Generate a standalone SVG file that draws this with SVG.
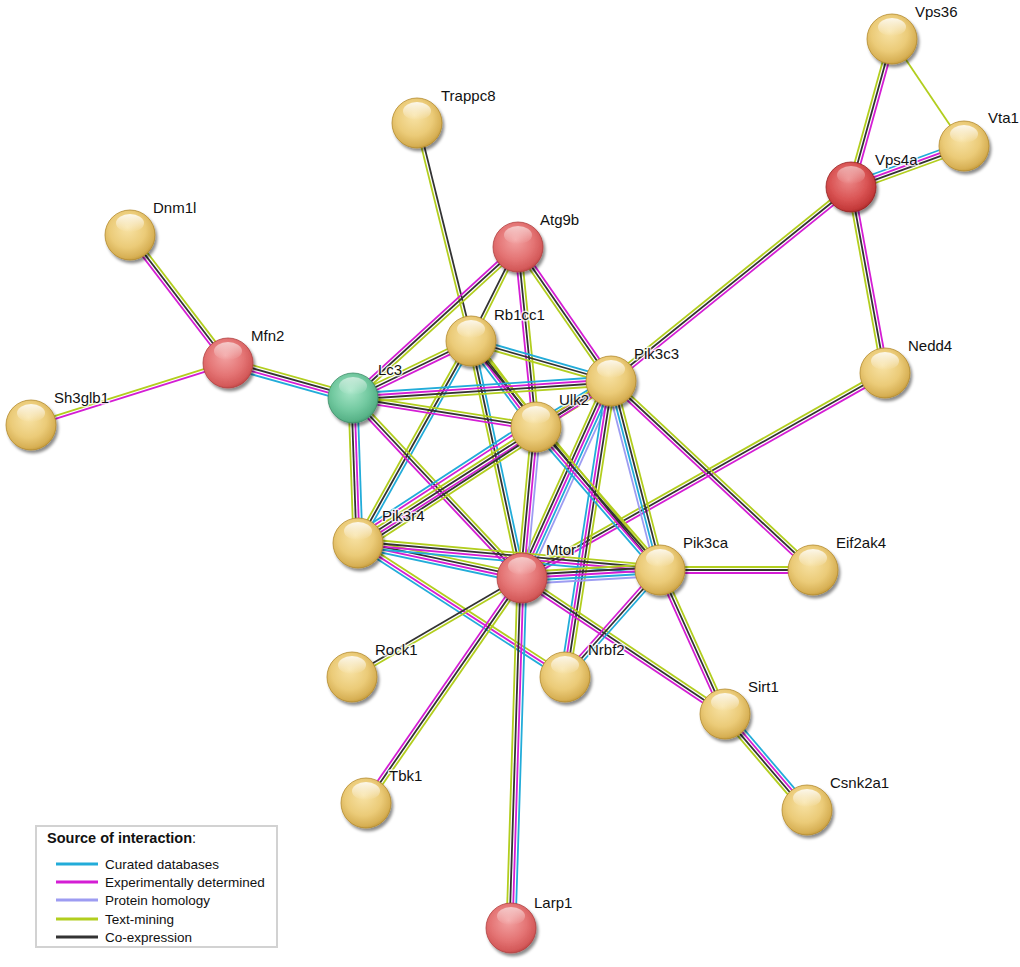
<svg xmlns="http://www.w3.org/2000/svg" xmlns:xlink="http://www.w3.org/1999/xlink" width="1020" height="967" viewBox="0 0 1020 967">
<style>
line{stroke-width:1.8;fill:none}
.g{stroke:#b2ce1e}.k{stroke:#333333}.m{stroke:#d41dd4}.c{stroke:#22acd9}.l{stroke:#9d9cf2}
.lbl{font-family:"Liberation Sans",Arial,sans-serif;font-size:15px;fill:#111;stroke:#fff;stroke-width:3;stroke-opacity:0.75;paint-order:stroke;stroke-linejoin:round}
.leg{font-family:"Liberation Sans",Arial,sans-serif;font-size:13.5px;fill:#111}
.legl{stroke-width:3}
</style>
<defs>
<filter id="sh" x="-40%" y="-40%" width="180%" height="180%"><feDropShadow dx="2" dy="3" stdDeviation="1.6" flood-color="#000" flood-opacity="0.45"/></filter>
<radialGradient id="gy" cx="0.45" cy="0.42" r="0.6" fx="0.45" fy="0.35"><stop offset="0" stop-color="#f8e3a6"/><stop offset="0.6" stop-color="#ebcb78"/><stop offset="0.9" stop-color="#d7b055"/><stop offset="1" stop-color="#c49a3b"/></radialGradient>
<radialGradient id="gr" cx="0.45" cy="0.42" r="0.6" fx="0.45" fy="0.35"><stop offset="0" stop-color="#f3a3a3"/><stop offset="0.6" stop-color="#e47474"/><stop offset="0.9" stop-color="#d45a5a"/><stop offset="1" stop-color="#bf4545"/></radialGradient>
<radialGradient id="gd" cx="0.45" cy="0.42" r="0.6" fx="0.45" fy="0.35"><stop offset="0" stop-color="#ec8a8a"/><stop offset="0.6" stop-color="#da5555"/><stop offset="0.9" stop-color="#c43a3a"/><stop offset="1" stop-color="#a82a2a"/></radialGradient>
<radialGradient id="gg" cx="0.45" cy="0.42" r="0.6" fx="0.45" fy="0.35"><stop offset="0" stop-color="#a8e6c8"/><stop offset="0.6" stop-color="#72c9a0"/><stop offset="0.9" stop-color="#58b388"/><stop offset="1" stop-color="#449a72"/></radialGradient>
<linearGradient id="hl" x1="0" y1="0" x2="0" y2="1"><stop offset="0" stop-color="#fff" stop-opacity="0.85"/><stop offset="1" stop-color="#fff" stop-opacity="0"/></linearGradient>
<g id="sy"><circle r="25" fill="url(#gy)" stroke="#b48a2c" stroke-width="0.8"/><ellipse cy="-12" rx="14" ry="9" fill="url(#hl)"/></g>
<g id="sr"><circle r="25" fill="url(#gr)" stroke="#b04040" stroke-width="0.8"/><ellipse cy="-12" rx="14" ry="9" fill="url(#hl)" opacity="0.7"/></g>
<g id="sd"><circle r="25" fill="url(#gd)" stroke="#962020" stroke-width="0.8"/><ellipse cy="-12" rx="14" ry="9" fill="url(#hl)" opacity="0.6"/></g>
<g id="sg"><circle r="25" fill="url(#gg)" stroke="#3d8d68" stroke-width="0.8"/><ellipse cy="-12" rx="14" ry="9" fill="url(#hl)" opacity="0.7"/></g>
</defs>
<rect width="1020" height="967" fill="#ffffff"/>
<g id="edges">
<line x1="892" y1="39" x2="964" y2="146" class="g"/>
<g transform="matrix(0.2670,-0.9637,0.9637,0.2670,851,187)"><line x2="153.6" y1="-3" y2="-3" class="g"/><line x2="153.6" class="k"/><line x2="153.6" y1="3" y2="3" class="m"/></g>
<g transform="matrix(-0.9400,0.3411,-0.3411,-0.9400,964,146)"><line x2="120.2" y1="-4.5" y2="-4.5" class="g"/><line x2="120.2" y1="-1.5" y2="-1.5" class="k"/><line x2="120.2" y1="1.5" y2="1.5" class="m"/><line x2="120.2" y1="4.5" y2="4.5" class="c"/></g>
<g transform="matrix(0.7777,-0.6286,0.6286,0.7777,611,381)"><line x2="308.6" y1="-3" y2="-3" class="g"/><line x2="308.6" class="k"/><line x2="308.6" y1="3" y2="3" class="m"/></g>
<g transform="matrix(-0.1798,-0.9837,0.9837,-0.1798,885,373)"><line x2="189.1" y1="-3" y2="-3" class="g"/><line x2="189.1" class="k"/><line x2="189.1" y1="3" y2="3" class="m"/></g>
<g transform="matrix(0.8707,-0.4917,0.4917,0.8707,522,578)"><line x2="416.9" y1="-3" y2="-3" class="g"/><line x2="416.9" class="k"/><line x2="416.9" y1="3" y2="3" class="m"/></g>
<g transform="matrix(-0.2404,-0.9707,0.9707,-0.2404,471,341)"><line x2="224.6" y1="-1.5" y2="-1.5" class="g"/><line x2="224.6" y1="1.5" y2="1.5" class="k"/></g>
<g transform="matrix(0.6079,0.7940,-0.7940,0.6079,130,235)"><line x2="161.2" y1="-3" y2="-3" class="g"/><line x2="161.2" class="k"/><line x2="161.2" y1="3" y2="3" class="m"/></g>
<g transform="matrix(0.9539,-0.3002,0.3002,0.9539,31,425)"><line x2="206.5" y1="-1.5" y2="-1.5" class="g"/><line x2="206.5" y1="1.5" y2="1.5" class="m"/></g>
<g transform="matrix(0.9630,0.2696,-0.2696,0.9630,228,363)"><line x2="129.8" y1="-4.5" y2="-4.5" class="g"/><line x2="129.8" y1="-1.5" y2="-1.5" class="k"/><line x2="129.8" y1="1.5" y2="1.5" class="m"/><line x2="129.8" y1="4.5" y2="4.5" class="c"/></g>
<g transform="matrix(-0.7377,0.6751,-0.6751,-0.7377,518,247)"><line x2="223.7" y1="-3" y2="-3" class="g"/><line x2="223.7" class="k"/><line x2="223.7" y1="3" y2="3" class="m"/></g>
<g transform="matrix(-0.4472,0.8944,-0.8944,-0.4472,518,247)"><line x2="105.1" y1="-1.5" y2="-1.5" class="g"/><line x2="105.1" y1="1.5" y2="1.5" class="k"/></g>
<g transform="matrix(-0.5702,-0.8215,0.8215,-0.5702,611,381)"><line x2="163.1" y1="-3" y2="-3" class="g"/><line x2="163.1" class="k"/><line x2="163.1" y1="3" y2="3" class="m"/></g>
<g transform="matrix(-0.0995,-0.9950,0.9950,-0.0995,536,427)"><line x2="180.9" y1="-3" y2="-3" class="m"/><line x2="180.9" class="k"/><line x2="180.9" y1="3" y2="3" class="g"/></g>
<g transform="matrix(0.9004,-0.4350,0.4350,0.9004,353,398)"><line x2="131.1" y1="-3" y2="-3" class="g"/><line x2="131.1" class="k"/><line x2="131.1" y1="3" y2="3" class="m"/></g>
<g transform="matrix(0.9615,0.2747,-0.2747,0.9615,471,341)"><line x2="145.6" y1="-3" y2="-3" class="c"/><line x2="145.6" class="k"/><line x2="145.6" y1="3" y2="3" class="g"/></g>
<g transform="matrix(0.6030,0.7978,-0.7978,0.6030,471,341)"><line x2="107.8" y1="-4.5" y2="-4.5" class="g"/><line x2="107.8" y1="-1.5" y2="-1.5" class="k"/><line x2="107.8" y1="1.5" y2="1.5" class="m"/><line x2="107.8" y1="4.5" y2="4.5" class="c"/></g>
<g transform="matrix(-0.2104,-0.9776,0.9776,-0.2104,522,578)"><line x2="242.4" y1="-3" y2="-3" class="g"/><line x2="242.4" class="k"/><line x2="242.4" y1="3" y2="3" class="c"/></g>
<g transform="matrix(0.4882,-0.8727,0.8727,0.4882,358,543)"><line x2="231.5" y1="-3" y2="-3" class="g"/><line x2="231.5" class="k"/><line x2="231.5" y1="3" y2="3" class="c"/></g>
<g transform="matrix(0.6365,0.7712,-0.7712,0.6365,471,341)"><line x2="296.9" y1="-1.5" y2="-1.5" class="g"/><line x2="296.9" y1="1.5" y2="1.5" class="k"/></g>
<g transform="matrix(0.9978,-0.0657,0.0657,0.9978,353,398)"><line x2="258.6" y1="-4.5" y2="-4.5" class="c"/><line x2="258.6" y1="-1.5" y2="-1.5" class="m"/><line x2="258.6" y1="1.5" y2="1.5" class="k"/><line x2="258.6" y1="4.5" y2="4.5" class="g"/></g>
<g transform="matrix(0.9877,0.1565,-0.1565,0.9877,353,398)"><line x2="185.3" y1="-3" y2="-3" class="g"/><line x2="185.3" class="k"/><line x2="185.3" y1="3" y2="3" class="m"/></g>
<g transform="matrix(-0.0345,-0.9994,0.9994,-0.0345,358,543)"><line x2="145.1" y1="-4.5" y2="-4.5" class="g"/><line x2="145.1" y1="-1.5" y2="-1.5" class="k"/><line x2="145.1" y1="1.5" y2="1.5" class="m"/><line x2="145.1" y1="4.5" y2="4.5" class="c"/></g>
<g transform="matrix(0.6845,0.7290,-0.7290,0.6845,353,398)"><line x2="246.9" y1="-3" y2="-3" class="g"/><line x2="246.9" class="k"/><line x2="246.9" y1="3" y2="3" class="m"/></g>
<g transform="matrix(0.8525,-0.5228,0.5228,0.8525,536,427)"><line x2="88" y1="-4.5" y2="-4.5" class="c"/><line x2="88" y1="-1.5" y2="-1.5" class="m"/><line x2="88" y1="1.5" y2="1.5" class="k"/><line x2="88" y1="4.5" y2="4.5" class="g"/></g>
<g transform="matrix(0.8422,-0.5392,0.5392,0.8422,358,543)"><line x2="300.4" y1="-3" y2="-3" class="g"/><line x2="300.4" class="k"/><line x2="300.4" y1="3" y2="3" class="m"/></g>
<g transform="matrix(0.8378,-0.5460,0.5460,0.8378,358,543)"><line x2="212.5" y1="-9" y2="-9" class="c"/><line x2="212.5" y1="-6" y2="-6" class="m"/><line x2="212.5" y1="6" y2="6" class="k"/><line x2="212.5" y1="9" y2="9" class="g"/></g>
<g transform="matrix(0.4117,-0.9113,0.9113,0.4117,522,578)"><line x2="216.2" y1="-6" y2="-6" class="g"/><line x2="216.2" y1="-3" y2="-3" class="k"/><line x2="216.2" class="m"/><line x2="216.2" y1="3" y2="3" class="c"/><line x2="216.2" y1="6" y2="6" class="l"/></g>
<g transform="matrix(-0.2510,-0.9680,0.9680,-0.2510,660,570)"><line x2="195.3" y1="-4.5" y2="-4.5" class="l"/><line x2="195.3" y1="-1.5" y2="-1.5" class="c"/><line x2="195.3" y1="1.5" y2="1.5" class="k"/><line x2="195.3" y1="4.5" y2="4.5" class="g"/></g>
<g transform="matrix(0.1536,-0.9882,0.9882,0.1536,565,677)"><line x2="299.6" y1="-4.5" y2="-4.5" class="c"/><line x2="299.6" y1="-1.5" y2="-1.5" class="m"/><line x2="299.6" y1="1.5" y2="1.5" class="k"/><line x2="299.6" y1="4.5" y2="4.5" class="g"/></g>
<g transform="matrix(0.7302,0.6832,-0.6832,0.7302,611,381)"><line x2="276.6" y1="-3" y2="-3" class="g"/><line x2="276.6" class="k"/><line x2="276.6" y1="3" y2="3" class="m"/></g>
<g transform="matrix(0.0923,-0.9957,0.9957,0.0923,522,578)"><line x2="151.7" y1="-4.5" y2="-4.5" class="g"/><line x2="151.7" y1="-1.5" y2="-1.5" class="k"/><line x2="151.7" y1="1.5" y2="1.5" class="m"/><line x2="151.7" y1="4.5" y2="4.5" class="l"/></g>
<g transform="matrix(0.6551,0.7555,-0.7555,0.6551,536,427)"><line x2="189.3" y1="-4.5" y2="-4.5" class="g"/><line x2="189.3" y1="-1.5" y2="-1.5" class="k"/><line x2="189.3" y1="1.5" y2="1.5" class="m"/><line x2="189.3" y1="4.5" y2="4.5" class="c"/></g>
<g transform="matrix(0.9780,0.2087,-0.2087,0.9780,358,543)"><line x2="167.7" y1="-4.5" y2="-4.5" class="g"/><line x2="167.7" y1="-1.5" y2="-1.5" class="k"/><line x2="167.7" y1="1.5" y2="1.5" class="m"/><line x2="167.7" y1="4.5" y2="4.5" class="c"/></g>
<g transform="matrix(0.9960,0.0891,-0.0891,0.9960,358,543)"><line x2="303.2" y1="-4.5" y2="-4.5" class="g"/><line x2="303.2" y1="-1.5" y2="-1.5" class="k"/><line x2="303.2" y1="1.5" y2="1.5" class="m"/><line x2="303.2" y1="4.5" y2="4.5" class="c"/></g>
<g transform="matrix(0.8395,0.5434,-0.5434,0.8395,358,543)"><line x2="246.6" y1="-3" y2="-3" class="g"/><line x2="246.6" class="m"/><line x2="246.6" y1="3" y2="3" class="c"/></g>
<g transform="matrix(0.9983,-0.0579,0.0579,0.9983,522,578)"><line x2="138.2" y1="-6" y2="-6" class="g"/><line x2="138.2" y1="-3" y2="-3" class="k"/><line x2="138.2" class="m"/><line x2="138.2" y1="3" y2="3" class="c"/><line x2="138.2" y1="6" y2="6" class="l"/></g>
<g transform="matrix(0.8641,-0.5032,0.5032,0.8641,352,677)"><line x2="196.7" y1="-1.5" y2="-1.5" class="k"/><line x2="196.7" y1="1.5" y2="1.5" class="g"/></g>
<g transform="matrix(-0.5698,0.8218,-0.8218,-0.5698,522,578)"><line x2="273.8" y1="-3" y2="-3" class="g"/><line x2="273.8" class="k"/><line x2="273.8" y1="3" y2="3" class="m"/></g>
<g transform="matrix(0.0314,-0.9995,0.9995,0.0314,511,928)"><line x2="350.2" y1="-4.5" y2="-4.5" class="g"/><line x2="350.2" y1="-1.5" y2="-1.5" class="k"/><line x2="350.2" y1="1.5" y2="1.5" class="m"/><line x2="350.2" y1="4.5" y2="4.5" class="c"/></g>
<g transform="matrix(0.8308,0.5566,-0.5566,0.8308,522,578)"><line x2="244.4" y1="-3" y2="-3" class="g"/><line x2="244.4" class="k"/><line x2="244.4" y1="3" y2="3" class="m"/></g>
<g transform="matrix(0.4114,0.9115,-0.9115,0.4114,660,570)"><line x2="158" y1="-3" y2="-3" class="g"/><line x2="158" class="k"/><line x2="158" y1="3" y2="3" class="m"/></g>
<g transform="translate(660,570)"><line x2="153" y1="-3" y2="-3" class="g"/><line x2="153" class="k"/><line x2="153" y1="3" y2="3" class="m"/></g>
<g transform="matrix(0.6639,-0.7478,0.7478,0.6639,565,677)"><line x2="143.1" y1="-3" y2="-3" class="m"/><line x2="143.1" class="k"/><line x2="143.1" y1="3" y2="3" class="c"/></g>
<g transform="matrix(-0.6495,-0.7604,0.7604,-0.6495,807,810)"><line x2="126.3" y1="-4.5" y2="-4.5" class="g"/><line x2="126.3" y1="-1.5" y2="-1.5" class="k"/><line x2="126.3" y1="1.5" y2="1.5" class="m"/><line x2="126.3" y1="4.5" y2="4.5" class="c"/></g>
</g>
<g id="node-Vps36"><use href="#sy" x="892" y="39" filter="url(#sh)"/><text class="lbl" x="915" y="17">Vps36</text></g>
<g id="node-Vta1"><use href="#sy" x="964" y="146" filter="url(#sh)"/><text class="lbl" x="988" y="123">Vta1</text></g>
<g id="node-Vps4a"><use href="#sd" x="851" y="187" filter="url(#sh)"/><text class="lbl" x="875" y="165">Vps4a</text></g>
<g id="node-Trappc8"><use href="#sy" x="417" y="123" filter="url(#sh)"/><text class="lbl" x="441" y="101">Trappc8</text></g>
<g id="node-Dnm1l"><use href="#sy" x="130" y="235" filter="url(#sh)"/><text class="lbl" x="153" y="213">Dnm1l</text></g>
<g id="node-Atg9b"><use href="#sr" x="518" y="247" filter="url(#sh)"/><text class="lbl" x="540" y="225">Atg9b</text></g>
<g id="node-Mfn2"><use href="#sr" x="228" y="363" filter="url(#sh)"/><text class="lbl" x="251" y="341">Mfn2</text></g>
<g id="node-Sh3glb1"><use href="#sy" x="31" y="425" filter="url(#sh)"/><text class="lbl" x="54" y="403">Sh3glb1</text></g>
<g id="node-Rb1cc1"><use href="#sy" x="471" y="341" filter="url(#sh)"/><text class="lbl" x="494" y="320">Rb1cc1</text></g>
<g id="node-Lc3"><use href="#sg" x="353" y="398" filter="url(#sh)"/><text class="lbl" x="378" y="375">Lc3</text></g>
<g id="node-Pik3c3"><use href="#sy" x="611" y="381" filter="url(#sh)"/><text class="lbl" x="634" y="359">Pik3c3</text></g>
<g id="node-Ulk2"><use href="#sy" x="536" y="427" filter="url(#sh)"/><text class="lbl" x="559" y="405">Ulk2</text></g>
<g id="node-Nedd4"><use href="#sy" x="885" y="373" filter="url(#sh)"/><text class="lbl" x="908" y="351">Nedd4</text></g>
<g id="node-Pik3r4"><use href="#sy" x="358" y="543" filter="url(#sh)"/><text class="lbl" x="382" y="521">Pik3r4</text></g>
<g id="node-Mtor"><use href="#sr" x="522" y="578" filter="url(#sh)"/><text class="lbl" x="546" y="555">Mtor</text></g>
<g id="node-Pik3ca"><use href="#sy" x="660" y="570" filter="url(#sh)"/><text class="lbl" x="683" y="548">Pik3ca</text></g>
<g id="node-Eif2ak4"><use href="#sy" x="813" y="570" filter="url(#sh)"/><text class="lbl" x="836" y="548">Eif2ak4</text></g>
<g id="node-Rock1"><use href="#sy" x="352" y="677" filter="url(#sh)"/><text class="lbl" x="375" y="655">Rock1</text></g>
<g id="node-Nrbf2"><use href="#sy" x="565" y="677" filter="url(#sh)"/><text class="lbl" x="588" y="655">Nrbf2</text></g>
<g id="node-Sirt1"><use href="#sy" x="725" y="714" filter="url(#sh)"/><text class="lbl" x="748" y="692">Sirt1</text></g>
<g id="node-Tbk1"><use href="#sy" x="366" y="803" filter="url(#sh)"/><text class="lbl" x="389" y="781">Tbk1</text></g>
<g id="node-Csnk2a1"><use href="#sy" x="807" y="810" filter="url(#sh)"/><text class="lbl" x="830" y="788">Csnk2a1</text></g>
<g id="node-Larp1"><use href="#sr" x="511" y="928" filter="url(#sh)"/><text class="lbl" x="534" y="908">Larp1</text></g>
<g id="legend">
<rect x="36" y="826" width="241" height="121" fill="#ffffff" stroke="#d2d2d2" stroke-width="2"/>
<text class="leg" x="47" y="843" style="font-weight:bold;font-size:14.5px">Source of interaction<tspan style="font-weight:normal">:</tspan></text>
<line class="legl c" x1="56" y1="864" x2="98" y2="864"/><text class="leg" x="105" y="869">Curated databases</text>
<line class="legl m" x1="56" y1="882" x2="98" y2="882"/><text class="leg" x="105" y="887">Experimentally determined</text>
<line class="legl l" x1="56" y1="900" x2="98" y2="900"/><text class="leg" x="105" y="905">Protein homology</text>
<line class="legl g" x1="56" y1="919" x2="98" y2="919"/><text class="leg" x="105" y="924">Text-mining</text>
<line class="legl k" x1="56" y1="937" x2="98" y2="937"/><text class="leg" x="105" y="942">Co-expression</text>
</g>
</svg>
